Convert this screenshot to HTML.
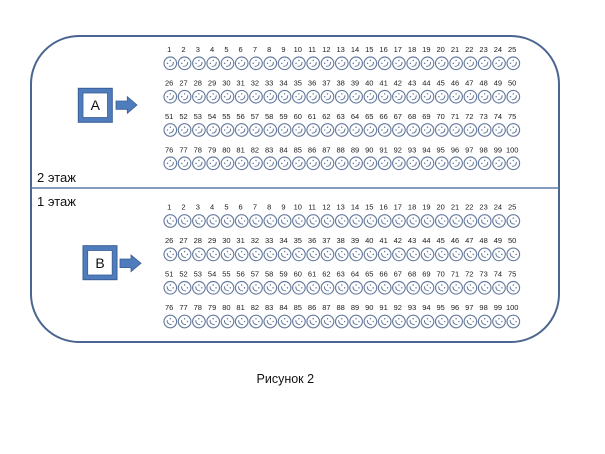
<!DOCTYPE html>
<html><head><meta charset="utf-8"><style>
html,body{margin:0;padding:0;background:#fff;}
svg{display:block;}
.n{font-family:"Liberation Sans",sans-serif;font-size:7.5px;fill:#1a1a1a;}
.t{font-family:"Liberation Sans","Noto Sans CJK SC",sans-serif;font-size:13px;fill:#111;}
</style></head><body>
<svg width="605" height="454" viewBox="0 0 605 454" xmlns="http://www.w3.org/2000/svg" xmlns:xlink="http://www.w3.org/1999/xlink">
<defs>
<g id="fu"><circle r="6.3" fill="#fff" stroke="#677b9e" stroke-width="1.15"/><g transform="rotate(-45)" fill="#677b9e"><circle cx="-2" cy="-2" r="0.75"/><circle cx="2" cy="-2" r="0.75"/><path d="M-3.2 1.2 Q0 4.5 3.2 1.2" fill="none" stroke="#677b9e" stroke-width="1"/></g></g>
<g id="fl"><circle r="6.3" fill="#fff" stroke="#677b9e" stroke-width="1.15"/><g transform="rotate(45)" fill="#677b9e"><circle cx="-2" cy="-2" r="0.75"/><circle cx="2" cy="-2" r="0.75"/><path d="M-3.2 1.2 Q0 4.5 3.2 1.2" fill="none" stroke="#677b9e" stroke-width="1"/></g></g>
<g id="ru">
<use xlink:href="#fu" x="170.3"/><use xlink:href="#fu" x="184.6"/><use xlink:href="#fu" x="198.9"/><use xlink:href="#fu" x="213.2"/><use xlink:href="#fu" x="227.5"/><use xlink:href="#fu" x="241.7"/><use xlink:href="#fu" x="256"/><use xlink:href="#fu" x="270.3"/><use xlink:href="#fu" x="284.6"/><use xlink:href="#fu" x="298.9"/><use xlink:href="#fu" x="313.2"/><use xlink:href="#fu" x="327.5"/><use xlink:href="#fu" x="341.8"/><use xlink:href="#fu" x="356.1"/><use xlink:href="#fu" x="370.4"/><use xlink:href="#fu" x="384.7"/><use xlink:href="#fu" x="398.9"/><use xlink:href="#fu" x="413.2"/><use xlink:href="#fu" x="427.5"/><use xlink:href="#fu" x="441.8"/><use xlink:href="#fu" x="456.1"/><use xlink:href="#fu" x="470.4"/><use xlink:href="#fu" x="484.7"/><use xlink:href="#fu" x="499"/><use xlink:href="#fu" x="513.3"/>
</g>
<g id="rl">
<use xlink:href="#fl" x="170.3"/><use xlink:href="#fl" x="184.6"/><use xlink:href="#fl" x="198.9"/><use xlink:href="#fl" x="213.2"/><use xlink:href="#fl" x="227.5"/><use xlink:href="#fl" x="241.7"/><use xlink:href="#fl" x="256"/><use xlink:href="#fl" x="270.3"/><use xlink:href="#fl" x="284.6"/><use xlink:href="#fl" x="298.9"/><use xlink:href="#fl" x="313.2"/><use xlink:href="#fl" x="327.5"/><use xlink:href="#fl" x="341.8"/><use xlink:href="#fl" x="356.1"/><use xlink:href="#fl" x="370.4"/><use xlink:href="#fl" x="384.7"/><use xlink:href="#fl" x="398.9"/><use xlink:href="#fl" x="413.2"/><use xlink:href="#fl" x="427.5"/><use xlink:href="#fl" x="441.8"/><use xlink:href="#fl" x="456.1"/><use xlink:href="#fl" x="470.4"/><use xlink:href="#fl" x="484.7"/><use xlink:href="#fl" x="499"/><use xlink:href="#fl" x="513.3"/>
</g>
</defs>

<rect x="31" y="36" width="528" height="306" rx="48" ry="48" fill="#fff" stroke="#4a6590" stroke-width="2"/>
<line x1="31" y1="188" x2="559" y2="188" stroke="#5a7aa8" stroke-width="1.6"/>

<use xlink:href="#ru" y="63.3"/>
<use xlink:href="#ru" y="96.7"/>
<use xlink:href="#ru" y="130"/>
<use xlink:href="#ru" y="163.3"/>
<use xlink:href="#rl" y="221"/>
<use xlink:href="#rl" y="254.4"/>
<use xlink:href="#rl" y="287.8"/>
<use xlink:href="#rl" y="321.5"/>

<text class="n" text-anchor="middle" y="52"><tspan x="169.2">1</tspan><tspan x="183.5">2</tspan><tspan x="197.8">3</tspan><tspan x="212.1">4</tspan><tspan x="226.4">5</tspan><tspan x="240.6">6</tspan><tspan x="254.9">7</tspan><tspan x="269.2">8</tspan><tspan x="283.5">9</tspan><tspan x="297.8">10</tspan><tspan x="312.1">11</tspan><tspan x="326.4">12</tspan><tspan x="340.7">13</tspan><tspan x="355">14</tspan><tspan x="369.3">15</tspan><tspan x="383.6">16</tspan><tspan x="397.8">17</tspan><tspan x="412.1">18</tspan><tspan x="426.4">19</tspan><tspan x="440.7">20</tspan><tspan x="455">21</tspan><tspan x="469.3">22</tspan><tspan x="483.6">23</tspan><tspan x="497.9">24</tspan><tspan x="512.2">25</tspan></text>
<text class="n" text-anchor="middle" y="85.5"><tspan x="169.2">26</tspan><tspan x="183.5">27</tspan><tspan x="197.8">28</tspan><tspan x="212.1">29</tspan><tspan x="226.4">30</tspan><tspan x="240.6">31</tspan><tspan x="254.9">32</tspan><tspan x="269.2">33</tspan><tspan x="283.5">34</tspan><tspan x="297.8">35</tspan><tspan x="312.1">36</tspan><tspan x="326.4">37</tspan><tspan x="340.7">38</tspan><tspan x="355">39</tspan><tspan x="369.3">40</tspan><tspan x="383.6">41</tspan><tspan x="397.8">42</tspan><tspan x="412.1">43</tspan><tspan x="426.4">44</tspan><tspan x="440.7">45</tspan><tspan x="455">46</tspan><tspan x="469.3">47</tspan><tspan x="483.6">48</tspan><tspan x="497.9">49</tspan><tspan x="512.2">50</tspan></text>
<text class="n" text-anchor="middle" y="119"><tspan x="169.2">51</tspan><tspan x="183.5">52</tspan><tspan x="197.8">53</tspan><tspan x="212.1">54</tspan><tspan x="226.4">55</tspan><tspan x="240.6">56</tspan><tspan x="254.9">57</tspan><tspan x="269.2">58</tspan><tspan x="283.5">59</tspan><tspan x="297.8">60</tspan><tspan x="312.1">61</tspan><tspan x="326.4">62</tspan><tspan x="340.7">63</tspan><tspan x="355">64</tspan><tspan x="369.3">65</tspan><tspan x="383.6">66</tspan><tspan x="397.8">67</tspan><tspan x="412.1">68</tspan><tspan x="426.4">69</tspan><tspan x="440.7">70</tspan><tspan x="455">71</tspan><tspan x="469.3">72</tspan><tspan x="483.6">73</tspan><tspan x="497.9">74</tspan><tspan x="512.2">75</tspan></text>
<text class="n" text-anchor="middle" y="152.3"><tspan x="169.2">76</tspan><tspan x="183.5">77</tspan><tspan x="197.8">78</tspan><tspan x="212.1">79</tspan><tspan x="226.4">80</tspan><tspan x="240.6">81</tspan><tspan x="254.9">82</tspan><tspan x="269.2">83</tspan><tspan x="283.5">84</tspan><tspan x="297.8">85</tspan><tspan x="312.1">86</tspan><tspan x="326.4">87</tspan><tspan x="340.7">88</tspan><tspan x="355">89</tspan><tspan x="369.3">90</tspan><tspan x="383.6">91</tspan><tspan x="397.8">92</tspan><tspan x="412.1">93</tspan><tspan x="426.4">94</tspan><tspan x="440.7">95</tspan><tspan x="455">96</tspan><tspan x="469.3">97</tspan><tspan x="483.6">98</tspan><tspan x="497.9">99</tspan><tspan x="512.2">100</tspan></text>

<text class="n" text-anchor="middle" y="209.5"><tspan x="169.2">1</tspan><tspan x="183.5">2</tspan><tspan x="197.8">3</tspan><tspan x="212.1">4</tspan><tspan x="226.4">5</tspan><tspan x="240.6">6</tspan><tspan x="254.9">7</tspan><tspan x="269.2">8</tspan><tspan x="283.5">9</tspan><tspan x="297.8">10</tspan><tspan x="312.1">11</tspan><tspan x="326.4">12</tspan><tspan x="340.7">13</tspan><tspan x="355">14</tspan><tspan x="369.3">15</tspan><tspan x="383.6">16</tspan><tspan x="397.8">17</tspan><tspan x="412.1">18</tspan><tspan x="426.4">19</tspan><tspan x="440.7">20</tspan><tspan x="455">21</tspan><tspan x="469.3">22</tspan><tspan x="483.6">23</tspan><tspan x="497.9">24</tspan><tspan x="512.2">25</tspan></text>
<text class="n" text-anchor="middle" y="243"><tspan x="169.2">26</tspan><tspan x="183.5">27</tspan><tspan x="197.8">28</tspan><tspan x="212.1">29</tspan><tspan x="226.4">30</tspan><tspan x="240.6">31</tspan><tspan x="254.9">32</tspan><tspan x="269.2">33</tspan><tspan x="283.5">34</tspan><tspan x="297.8">35</tspan><tspan x="312.1">36</tspan><tspan x="326.4">37</tspan><tspan x="340.7">38</tspan><tspan x="355">39</tspan><tspan x="369.3">40</tspan><tspan x="383.6">41</tspan><tspan x="397.8">42</tspan><tspan x="412.1">43</tspan><tspan x="426.4">44</tspan><tspan x="440.7">45</tspan><tspan x="455">46</tspan><tspan x="469.3">47</tspan><tspan x="483.6">48</tspan><tspan x="497.9">49</tspan><tspan x="512.2">50</tspan></text>
<text class="n" text-anchor="middle" y="276.3"><tspan x="169.2">51</tspan><tspan x="183.5">52</tspan><tspan x="197.8">53</tspan><tspan x="212.1">54</tspan><tspan x="226.4">55</tspan><tspan x="240.6">56</tspan><tspan x="254.9">57</tspan><tspan x="269.2">58</tspan><tspan x="283.5">59</tspan><tspan x="297.8">60</tspan><tspan x="312.1">61</tspan><tspan x="326.4">62</tspan><tspan x="340.7">63</tspan><tspan x="355">64</tspan><tspan x="369.3">65</tspan><tspan x="383.6">66</tspan><tspan x="397.8">67</tspan><tspan x="412.1">68</tspan><tspan x="426.4">69</tspan><tspan x="440.7">70</tspan><tspan x="455">71</tspan><tspan x="469.3">72</tspan><tspan x="483.6">73</tspan><tspan x="497.9">74</tspan><tspan x="512.2">75</tspan></text>
<text class="n" text-anchor="middle" y="310"><tspan x="169.2">76</tspan><tspan x="183.5">77</tspan><tspan x="197.8">78</tspan><tspan x="212.1">79</tspan><tspan x="226.4">80</tspan><tspan x="240.6">81</tspan><tspan x="254.9">82</tspan><tspan x="269.2">83</tspan><tspan x="283.5">84</tspan><tspan x="297.8">85</tspan><tspan x="312.1">86</tspan><tspan x="326.4">87</tspan><tspan x="340.7">88</tspan><tspan x="355">89</tspan><tspan x="369.3">90</tspan><tspan x="383.6">91</tspan><tspan x="397.8">92</tspan><tspan x="412.1">93</tspan><tspan x="426.4">94</tspan><tspan x="440.7">95</tspan><tspan x="455">96</tspan><tspan x="469.3">97</tspan><tspan x="483.6">98</tspan><tspan x="497.9">99</tspan><tspan x="512.2">100</tspan></text>

<rect x="78.3" y="88.3" width="34" height="34" fill="#4f7cbd" stroke="#3a5f95" stroke-width="1"/>
<rect x="83" y="93" width="24.5" height="24.5" fill="#fff" stroke="#3a5f95" stroke-width="0.8"/>
<text class="t" x="95.3" y="110" text-anchor="middle" style="font-size:14px">A</text>
<polygon points="116,101 127.3,101 127.3,96.7 137,105 127.3,113.3 127.3,109.3 116,109.3" fill="#4f7cbd" stroke="#3a5f95" stroke-width="0.8"/>

<rect x="83" y="245.7" width="34" height="34" fill="#4f7cbd" stroke="#3a5f95" stroke-width="1"/>
<rect x="87.7" y="250.5" width="24.5" height="24.5" fill="#fff" stroke="#3a5f95" stroke-width="0.8"/>
<text class="t" x="100" y="267.8" text-anchor="middle" style="font-size:14px">B</text>
<polygon points="120,259 131,259 131,255 141,263.3 131,271.6 131,267.6 120,267.6" fill="#4f7cbd" stroke="#3a5f95" stroke-width="0.8"/>

<text class="t" x="37" y="182">2 этаж</text>
<text class="t" x="37" y="206">1 этаж</text>
<text class="t" x="256.5" y="383" style="font-size:12.5px">Рисунок 2</text>
</svg>
</body></html>
